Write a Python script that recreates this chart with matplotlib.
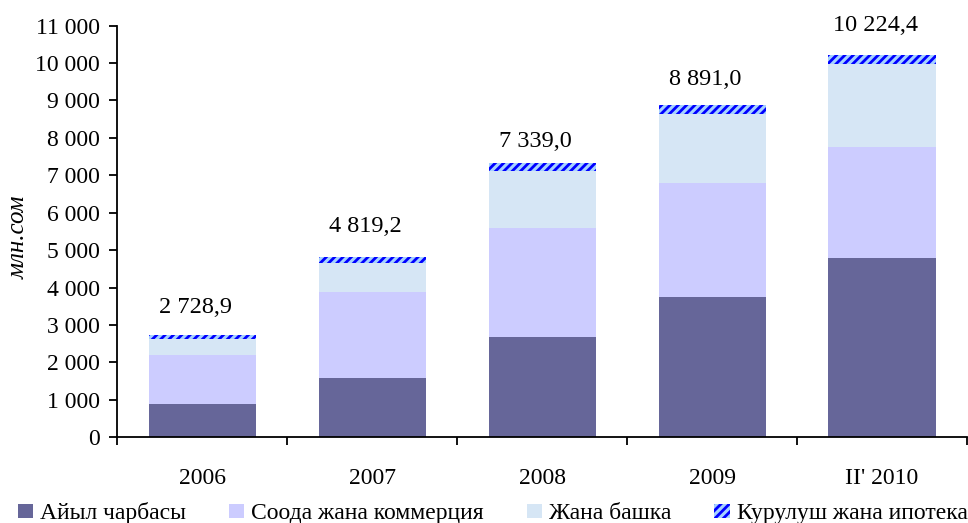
import matplotlib
matplotlib.use("Agg")
import matplotlib.pyplot as plt
from matplotlib.patches import Patch
from matplotlib.ticker import FuncFormatter, FixedLocator
import numpy as np

categories = ["2006", "2007", "2008", "2009", "II' 2010"]
agri = [890, 1585, 2690, 3749, 4790]
trade = [1310, 2305, 2903, 3047, 2968]
other = [430, 760, 1532, 1852, 2222]
constr = [99, 169, 214, 243, 244]
totals = [2728.9, 4819.2, 7339.0, 8891.0, 10224.4]
total_labels = ["2 728,9", "4 819,2", "7 339,0", "8 891,0", "10 224,4"]
series_names = ["Айыл чарбасы", "Соода жана коммерция", "Жана башка", "Курулуш жана ипотека"]
ylabel = "млн.сом"

plt.rcParams['font.family'] = ['Liberation Serif', 'DejaVu Serif']
plt.rcParams['hatch.color'] = '#0000ff'
plt.rcParams['hatch.linewidth'] = 2.0

fig = plt.figure(figsize=(9.68, 5.23), dpi=100)
ax = fig.add_axes([0.121, 0.164, 0.878, 0.787])

x = np.arange(len(categories))
w = 0.63
c_agri = '#666699'
c_trade = '#ccccff'
c_other = '#d6e6f5'
c_con = '#a6d2ff'

b0 = np.zeros(len(x))
ax.bar(x, agri, w, bottom=b0, color=c_agri, linewidth=0)
b1 = b0 + np.array(agri)
ax.bar(x, trade, w, bottom=b1, color=c_trade, linewidth=0)
b2 = b1 + np.array(trade)
ax.bar(x, other, w, bottom=b2, color=c_other, linewidth=0)
b3 = b2 + np.array(other)
ax.bar(x, constr, w, bottom=b3, color=c_con, edgecolor='#0000ff', hatch='////', linewidth=0)

label_dy = [20, 22, 15, 18, 21]
for i, (t, lab) in enumerate(zip(totals, total_labels)):
    ax.annotate(lab, xy=(x[i], t), xytext=(-5, label_dy[i]), textcoords='offset points',
                ha='center', va='center', fontsize=17.5, color='black')

ax.set_xlim(-0.5, len(x) - 0.5)
ax.set_ylim(0, 11000)
ax.yaxis.set_major_locator(FixedLocator(np.arange(0, 11001, 1000)))
ax.yaxis.set_major_formatter(FuncFormatter(lambda v, p: f"{int(v):,}".replace(",", " ")))
ax.set_xticks(x)
ax.set_xticklabels(categories)
ax.set_xticks(np.arange(-0.5, len(x), 1.0), minor=True)
ax.tick_params(axis='x', which='major', length=0, pad=22, labelsize=17)
ax.tick_params(axis='x', which='minor', length=6, width=1.3, direction='out')
ax.tick_params(axis='y', which='major', length=6, width=1.3, direction='out', labelsize=17, pad=6.5)

for s in ['top', 'right']:
    ax.spines[s].set_visible(False)
for s in ['left', 'bottom']:
    ax.spines[s].set_linewidth(1.3)

fig.text(0.019, 0.547, ylabel, rotation=90, style='italic', fontsize=18, ha='center', va='center')

handles = [Patch(facecolor=c_agri, linewidth=0),
           Patch(facecolor=c_trade, linewidth=0),
           Patch(facecolor=c_other, linewidth=0),
           Patch(facecolor=c_con, edgecolor='#0000ff', hatch='////', linewidth=0)]
fig.legend(handles, series_names, loc='center', bbox_to_anchor=(0.509, 0.019), ncol=4,
           frameon=False, fontsize=17, handlelength=0.64, handleheight=0.54,
           handletextpad=0.3, columnspacing=1.82, borderpad=0)

fig.savefig("out.png", dpi=100)
